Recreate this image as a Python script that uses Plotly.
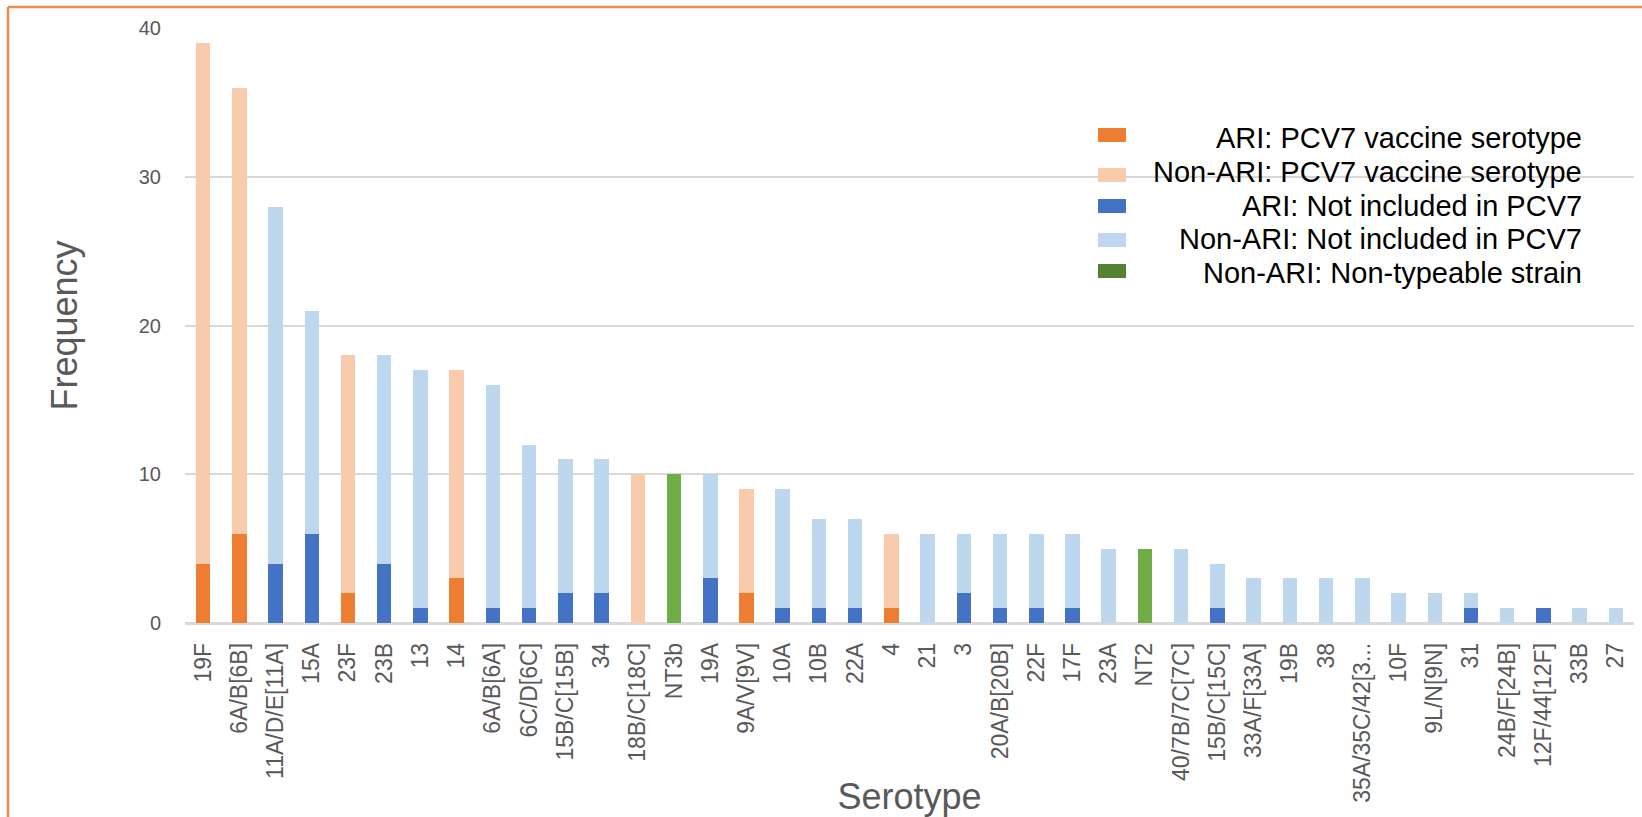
import plotly.graph_objects as go

# Pneumococcal serotype frequencies, split by ARI status and PCV7 coverage
serotypes = ["19F", "6A/B[6B]", "11A/D/E[11A]", "15A", "23F", "23B", "13", "14",
             "6A/B[6A]", "6C/D[6C]", "15B/C[15B]", "34", "18B/C[18C]", "NT3b", "19A",
             "9A/V[9V]", "10A", "10B", "22A", "4", "21", "3", "20A/B[20B]", "22F", "17F",
             "23A", "NT2", "40/7B/7C[7C]", "15B/C[15C]", "33A/F[33A]", "19B", "38",
             "35A/35C/42[3...", "10F", "9L/N[9N]", "31", "24B/F[24B]", "12F/44[12F]",
             "33B", "27"]

ari_pcv7 = [4, 6, None, None, 2, None, None, 3, None, None, None, None, None, None, None,
            2, None, None, None, 1, None, None, None, None, None, None, None, None, None,
            None, None, None, None, None, None, None, None, None, None, None]
ari_not_pcv7 = [None, None, 4, 6, None, 4, 1, None, 1, 1, 2, 2, None, None, 3,
                None, 1, 1, 1, None, None, 2, 1, 1, 1, None, None, None, 1,
                None, None, None, None, None, None, 1, None, 1, None, None]
nonari_pcv7 = [35, 30, None, None, 16, None, None, 14, None, None, None, None, 10, None, None,
               7, None, None, None, 5, None, None, None, None, None, None, None, None, None,
               None, None, None, None, None, None, None, None, None, None, None]
nonari_not_pcv7 = [None, None, 24, 15, None, 14, 16, None, 15, 11, 9, 9, None, None, 7,
                   None, 8, 6, 6, None, 6, 4, 5, 5, 5, 5, None, 5, 3,
                   3, 3, 3, 3, 2, 2, 1, 1, None, 1, 1]
nonari_nontypeable = [None, None, None, None, None, None, None, None, None, None, None, None,
                      None, 10, None, None, None, None, None, None, None, None, None, None,
                      None, None, 5, None, None, None, None, None, None, None, None, None,
                      None, None, None, None]

y_ticks = [0, 10, 20, 30, 40]

legend_labels = ["ARI: PCV7 vaccine serotype", "Non-ARI: PCV7 vaccine serotype",
                 "ARI: Not included in PCV7", "Non-ARI: Not included in PCV7",
                 "Non-ARI: Non-typeable strain"]
legend_colors = ["#ED7D31", "#F8CBAD", "#4472C4", "#BDD7EE", "#548235"]

C_ORANGE, C_PEACH, C_BLUE, C_LIGHTBLUE, C_GREEN = "#ED7D31", "#F8CBAD", "#4472C4", "#BDD7EE", "#70AD47"

W, H = 1642, 817
ML, MR, MT, MB = 185, 8, 28, 194
PW, PH = W - ML - MR, H - MT - MB
FONT = "Liberation Sans, Arial, sans-serif"


def px_x(x):
    return (x - ML) / PW


def px_y(y):
    return (H - MB - y) / PH


fig = go.Figure()
for name, vals, col in [
    ("ARI: PCV7 vaccine serotype", ari_pcv7, C_ORANGE),
    ("ARI: Not included in PCV7", ari_not_pcv7, C_BLUE),
    ("Non-ARI: PCV7 vaccine serotype", nonari_pcv7, C_PEACH),
    ("Non-ARI: Not included in PCV7", nonari_not_pcv7, C_LIGHTBLUE),
    ("Non-ARI: Non-typeable strain", nonari_nontypeable, C_GREEN),
]:
    fig.add_trace(go.Bar(x=serotypes, y=vals, name=name, marker_color=col,
                         marker_line_width=0, showlegend=False))

shapes = []
annotations = []

# Legend: swatches on the left, labels right-aligned
text_y = [138, 172, 206, 239, 273]
swatch_y = [135, 175, 206, 240, 271]
for lab, col, ty, sy in zip(legend_labels, legend_colors, text_y, swatch_y):
    shapes.append(dict(type="rect", xref="paper", yref="paper",
                       x0=px_x(1098), x1=px_x(1126), y0=px_y(sy - 7), y1=px_y(sy + 7),
                       fillcolor=col, line_width=0, layer="above"))
    annotations.append(dict(text=lab, xref="paper", yref="paper",
                            x=px_x(1584), y=px_y(ty), xanchor="right", yanchor="middle",
                            showarrow=False, font=dict(family=FONT, size=29, color="#000000")))

# Chart frame (top and left edges)
shapes.append(dict(type="line", xref="paper", yref="paper",
                   x0=px_x(8), x1=px_x(W + 5), y0=px_y(7), y1=px_y(7),
                   line=dict(color="#F08A4B", width=2.5)))
shapes.append(dict(type="line", xref="paper", yref="paper",
                   x0=px_x(8), x1=px_x(8), y0=px_y(7), y1=px_y(H + 5),
                   line=dict(color="#F08A4B", width=2.5)))

fig.update_layout(
    width=W, height=H,
    margin=dict(l=ML, r=MR, t=MT, b=MB, autoexpand=False),
    barmode="stack", bargap=0.6,
    plot_bgcolor="white", paper_bgcolor="white",
    shapes=shapes, annotations=annotations,
    font=dict(family=FONT, color="#595959"),
    xaxis=dict(type="category", tickangle=-90, showgrid=False,
               showline=True, linecolor="#D9D9D9", linewidth=1.5,
               tickfont=dict(family=FONT, size=23, color="#595959"),
               ticks="", ticklabelstandoff=9, automargin=False,
               title=dict(text="Serotype", font=dict(family=FONT, size=36, color="#595959"),
                          standoff=0)),
    yaxis=dict(range=[0, 40], tickvals=y_ticks, showgrid=True, gridcolor="#D9D9D9",
               gridwidth=1.5, zeroline=True, zerolinecolor="#D9D9D9", zerolinewidth=1.5,
               tickfont=dict(family=FONT, size=20, color="#595959"),
               ticks="", ticklabelstandoff=23, automargin=False,
               title=dict(text="Frequency", font=dict(family=FONT, size=36, color="#595959"),
                          standoff=50)),
)

fig.write_html("out.html")
